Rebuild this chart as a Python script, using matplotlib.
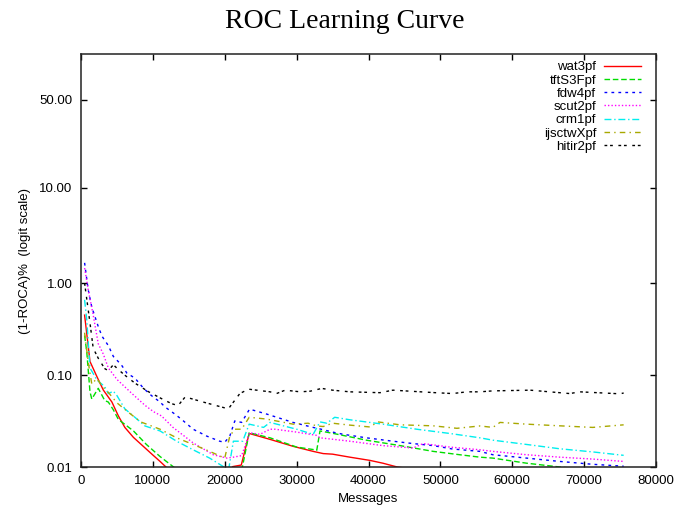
import numpy as np
import matplotlib
matplotlib.use("Agg")
import matplotlib.pyplot as plt
from matplotlib.ticker import FixedLocator, FixedFormatter, NullLocator

# (1-ROCA)% values, x in messages
wat3_x = [500, 1250, 2200, 3100, 4300, 5200, 6100, 7300, 8700, 10000, 11000, 12000, 15000,
          20500, 21100, 22300, 23400, 26300, 29500, 32300, 33700, 35000, 37400, 40200,
          42000, 44000, 46500, 55000, 75500]
wat3_y = [0.45, 0.141, 0.097, 0.069, 0.051, 0.036, 0.027, 0.021, 0.0167, 0.0135, 0.0115, 0.0097, 0.0075,
          0.0085, 0.0101, 0.0105, 0.0232, 0.0200, 0.0168, 0.0148, 0.0140, 0.0138, 0.0128, 0.0118,
          0.0110, 0.0100, 0.0094, 0.0080, 0.0065]

tft_x = [500, 800, 1250, 1500, 2400, 3300, 3800, 4500, 5200, 7300, 9100, 11000, 13100, 16000,
         20000, 22400, 23400, 26300, 30000, 32300, 32800, 33250, 35000, 39700, 44400, 49000,
         52700, 55500, 57300, 62000, 66600, 68400, 75500]
tft_y = [0.27, 0.18, 0.066, 0.055, 0.072, 0.053, 0.051, 0.042, 0.033, 0.0247, 0.0176, 0.013, 0.0097, 0.008,
         0.0075, 0.0095, 0.0236, 0.0208, 0.0165, 0.0155, 0.0152, 0.0247, 0.0233, 0.0196, 0.0171, 0.0148,
         0.0136, 0.0128, 0.0125, 0.0110, 0.0100, 0.0097, 0.0088]

fdw_x = [500, 1000, 1500, 2000, 2500, 3000, 3800, 4500, 5600, 6400, 7500, 8700, 9800, 11000, 11700,
         13000, 14000, 15600, 17500, 19300, 20000, 20700, 21400, 22350, 23450, 25800, 29500, 32300,
         33700, 35000, 36500, 39700, 43400, 46200, 49000, 51700, 55500, 57300, 62000, 66600, 71200, 75500]
fdw_y = [1.65, 0.85, 0.55, 0.42, 0.32, 0.26, 0.21, 0.16, 0.13, 0.105, 0.093, 0.072, 0.06, 0.051, 0.045,
         0.038, 0.033, 0.0258, 0.0217, 0.0191, 0.0186, 0.0217, 0.0318, 0.0306, 0.0427, 0.0378, 0.0306, 0.027,
         0.0255, 0.024, 0.0227, 0.0208, 0.0191, 0.018, 0.0171, 0.0157, 0.0148, 0.0136, 0.0125, 0.0115, 0.0107, 0.0102]

scut_x = [500, 1000, 1700, 2400, 3100, 3800, 5000, 7100, 8900, 10100, 11200, 12800, 15600, 18400, 20300,
          21200, 22350, 23450, 24900, 26300, 27000, 30000, 32800, 33250, 37400, 42000, 46200, 47600,
          51300, 55500, 57300, 62000, 66600, 71200, 75500]
scut_y = [1.45, 0.85, 0.45, 0.22, 0.17, 0.12, 0.09, 0.063, 0.047, 0.04, 0.036, 0.027, 0.0183, 0.0136, 0.0125,
          0.0128, 0.0133, 0.0236, 0.0227, 0.0258, 0.0258, 0.024, 0.0221, 0.0208, 0.0191, 0.0171, 0.0161, 0.018,
          0.0165, 0.0154, 0.0148, 0.0136, 0.0128, 0.0122, 0.0115]

crm_x = [500, 800, 1250, 2200, 3300, 3800, 4500, 5000, 6100, 7500, 8900, 11000, 13300, 15600, 17900,
         19800, 20500, 21200, 22500, 23400, 25400, 26300, 30000, 32300, 33250, 34200, 35300, 37400,
         42000, 46700, 51300, 55500, 57300, 62000, 66600, 71200, 75500]
crm_y = [0.66, 0.4, 0.12, 0.089, 0.075, 0.063, 0.067, 0.06, 0.043, 0.0348, 0.028, 0.0247, 0.0191, 0.0154, 0.0125,
         0.0101, 0.009, 0.0191, 0.0191, 0.0293, 0.027, 0.0306, 0.0258, 0.0227, 0.031, 0.030, 0.0348, 0.0327,
         0.0293, 0.0258, 0.0232, 0.0208, 0.0196, 0.0176, 0.0158, 0.0146, 0.0134]

ijs_x = [500, 1000, 1500, 2200, 3000, 3800, 5000, 6500, 8300, 11000, 13300, 15600, 17900, 20000, 20700,
         21400, 22350, 23400, 25800, 29500, 31600, 32800, 33700, 35000, 37400, 40200, 41300, 44400,
         49000, 52300, 55500, 57300, 58300, 62000, 66600, 71200, 75500]
ijs_y = [0.29, 0.14, 0.08, 0.092, 0.075, 0.065, 0.05, 0.04, 0.031, 0.0258, 0.0208, 0.0176, 0.0148, 0.0125, 0.0217,
         0.0258, 0.0258, 0.0348, 0.0333, 0.0293, 0.030, 0.028, 0.0276, 0.030, 0.0286, 0.0273, 0.031, 0.0288,
         0.0281, 0.0264, 0.028, 0.027, 0.0306, 0.0293, 0.0281, 0.027, 0.0288]

hit_x = [500, 1250, 1700, 2400, 3300, 3800, 4500, 5200, 6100, 7500, 9400, 11200, 12600, 13500, 14500,
         17000, 20500, 22100, 23300, 26300, 27200, 28400, 30500, 31900, 33500, 35000, 37400, 41600,
         43400, 49000, 51700, 53700, 55500, 57300, 62500, 68000, 69400, 75000, 75500]
hit_y = [1.0, 0.37, 0.196, 0.153, 0.118, 0.112, 0.13, 0.115, 0.1, 0.082, 0.066, 0.0556, 0.049, 0.0467, 0.058,
         0.051, 0.043, 0.0631, 0.0705, 0.0659, 0.0631, 0.0687, 0.0659, 0.067, 0.0718, 0.0687, 0.0659, 0.0645,
         0.0687, 0.0647, 0.0631, 0.0659, 0.0659, 0.0675, 0.0687, 0.0631, 0.0659, 0.0627, 0.064]

names = ["wat3pf", "tftS3Fpf", "fdw4pf", "scut2pf", "crm1pf", "ijsctwXpf", "hitir2pf"]
xs = [wat3_x, tft_x, fdw_x, scut_x, crm_x, ijs_x, hit_x]
ys = [wat3_y, tft_y, fdw_y, scut_y, crm_y, ijs_y, hit_y]
colors = ["#ff0000", "#00dd00", "#0000ff", "#ff00ff", "#00eeee", "#a8a800", "#000000"]
styles = ["-", (0, (4, 2)), (0, (2, 3)), (0, (1, 1.5)), (0, (5, 2, 1, 2)), (0, (4, 3, 1, 3)), (0, (2, 2, 2, 4))]

ytick_vals = [0.01, 0.1, 1, 10, 50]
ytick_labels = ["0.01", "0.10", "1.00", "10.00", "50.00"]

plt.rcParams["font.family"] = ["Liberation Sans", "DejaVu Sans"]

fig = plt.figure(figsize=(6.89, 5.16), dpi=100)
ax = fig.add_axes([81 / 689, 1 - 467 / 516, 575 / 689, 413 / 516])

for x, y, c, ls, nm in zip(xs, ys, colors, styles, names):
    ax.plot(x, np.array(y) / 100.0, color=c, linestyle=ls, linewidth=1.0, label=nm)

ax.set_yscale("logit")
ax.set_ylim(0.0001, 0.76)
ax.set_xlim(0, 80000)
ax.yaxis.set_major_locator(FixedLocator([v / 100.0 for v in ytick_vals]))
ax.yaxis.set_major_formatter(FixedFormatter(ytick_labels))
ax.yaxis.set_minor_locator(NullLocator())
ax.set_xticks(range(0, 80001, 10000))
ax.set_xticklabels([str(v) for v in range(0, 80001, 10000)])

ax.tick_params(direction="in", top=True, right=True, length=4.5, width=1.0, labelsize=9.5, pad=6)
for sp in ax.spines.values():
    sp.set_linewidth(1.1)
    sp.set_color("#222222")

ax.set_xlabel("Messages", fontsize=9.5, labelpad=4)
ax.set_ylabel("(1-ROCA)%  (logit scale)", fontsize=9.5, labelpad=6)
fig.text(0.5, 1 - 21 / 516, "ROC Learning Curve", ha="center", va="center",
         fontsize=20, family="Liberation Serif")

ax.legend(loc="upper right", bbox_to_anchor=(641 / 689, 1 - 61 / 516), bbox_transform=fig.transFigure,
          frameon=False, markerfirst=False, fontsize=9.5, labelspacing=0.08, handlelength=2.8,
          handletextpad=0.6, borderpad=0, borderaxespad=0)

fig.savefig("out.png", dpi=100)
